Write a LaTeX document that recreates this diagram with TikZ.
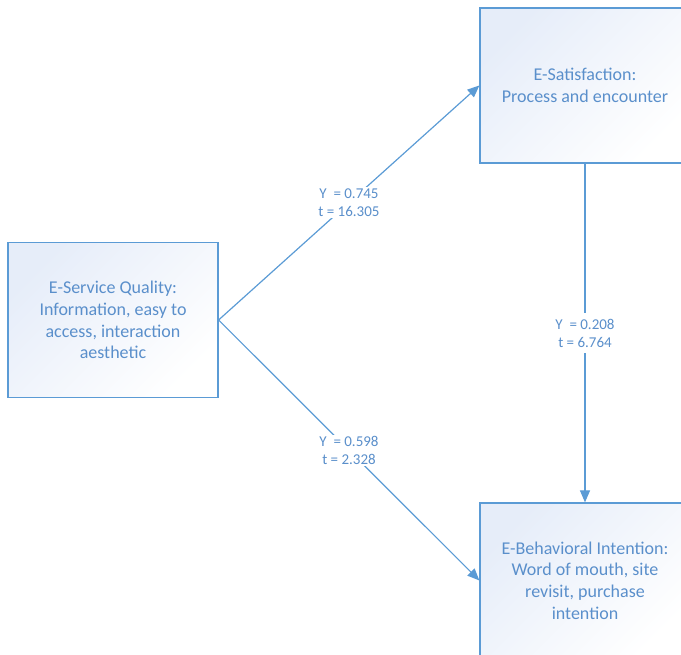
\documentclass[tikz,border=0pt]{standalone}
\usepackage{fontspec}
\setmainfont{Carlito}
\usetikzlibrary{arrows.meta}
\definecolor{edge}{HTML}{5B9BD5}
\definecolor{ink}{HTML}{5A8FCB}
\definecolor{tint}{HTML}{E6EDF9}

\begin{document}
\begin{tikzpicture}[x=1pt,y=1pt,
  construct/.style={draw=edge, line width=1.2pt, top color=tint, bottom color=white,
    shading angle=45, minimum width=210pt, minimum height=155pt, align=center,
    text=ink, font=\fontsize{18}{21.7}\selectfont, inner sep=0pt},
  link/.style={draw=edge, line width=1.2pt, -{Triangle[length=12pt,width=10pt]}},
  coef/.style={fill=white, text=ink, font=\fontsize{15}{18}\selectfont, align=center,
    inner xsep=2pt, inner ysep=1.5pt}
]
\useasboundingbox (0,0) rectangle (681,655);
\clip (0,0) rectangle (681,655);

% the three constructs of the model
\node[construct] (quality) at (113,335)
  {E-Service Quality:\\Information, easy to\\access, interaction\\aesthetic};
\node[construct] (satis) at (585,569.5)
  {E-Satisfaction:\\Process and encounter};
\node[construct] (intent) at (585,74.5)
  {E-Behavioral Intention:\\Word of mouth, site\\revisit, purchase\\intention};

% structural paths with their coefficients
\draw[link] (quality.east) -- node[coef] {Y\ \ = 0.745\\t = 16.305} (satis.west);
\draw[link] (quality.east) -- node[coef] {Y\ \ = 0.598\\t = 2.328} (intent.west);
\draw[link] (satis.south) -- node[coef, inner ysep=6pt] {Y\ \ = 0.208\\t = 6.764} (intent.north);
\end{tikzpicture}
\end{document}
